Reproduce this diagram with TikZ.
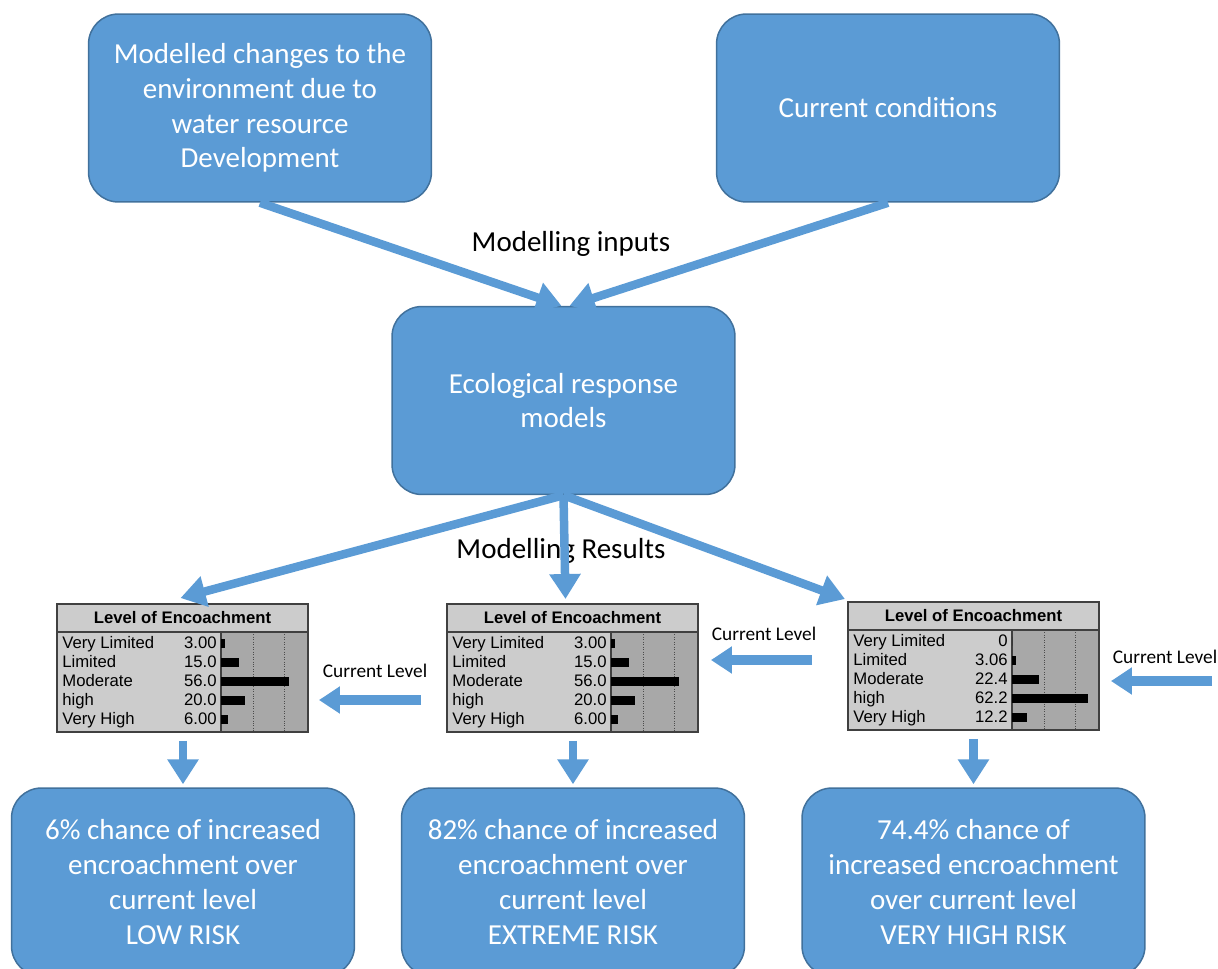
\documentclass[tikz,border=0pt]{standalone}
\usepackage{fontspec}
\setmainfont{Carlito}
\newfontfamily\netfont{Liberation Sans}
\usetikzlibrary{arrows.meta,calc}
\definecolor{boxblue}{HTML}{5B9BD5}
\definecolor{boxedge}{HTML}{41719C}
\definecolor{netlight}{HTML}{CCCCCC}
\definecolor{netdark}{HTML}{A8A8A8}
\tikzset{
  bluebox/.style={draw=boxedge, line width=0.03cm, fill=boxblue, rounded corners=0.6cm,
    minimum width=6.86cm, minimum height=3.76cm, align=center, text=white,
    font=\fontsize{16.5}{19.8}\selectfont},
  flow/.style={draw=boxblue, line width=0.17cm, -{Triangle[width=0.6cm,length=0.5cm]}},
  curarrow/.style={draw=boxblue, line width=0.2cm, -{Triangle[width=0.52cm,length=0.42cm]}},
  enctab/.style={draw=black!75, line width=0.04cm, minimum width=5.02cm, minimum height=2.56cm, inner sep=0},
  nettext/.style={inner sep=0, font=\netfont\fontsize{9.5}{11}\selectfont},
  flowlabel/.style={font=\fontsize{16.5}{19.8}\selectfont},
  curlabel/.style={font=\fontsize{11}{13}\selectfont}
}
\def\enctable(#1)(#2,#3)#4#5#6#7#8{
  \begin{scope}[shift={(#2,#3)}]
    \fill[netlight] (0,0) rectangle (251,128);
    \fill[netdark] (164,28) rectangle (251,128);
    \draw[densely dotted, black!70] (196,28) -- (196,128) (227,28) -- (227,128);
    \draw[black!75, line width=0.03cm] (0,28) -- (251,28) (164,28) -- (164,128);
    \node[nettext, font=\netfont\bfseries\fontsize{9.5}{11}\selectfont] at (125.5,14) {Level of Encoachment};
    \foreach \lab/\val [count=\i] in {Very Limited/#4, Limited/#5, Moderate/#6, high/#7, Very High/#8} {
      \node[nettext, anchor=base west] at (5, 25+19.1*\i) {\lab};
      \node[nettext, anchor=base east] at (160, 25+19.1*\i) {\val};
      \fill (164, 15.5+19.1*\i) rectangle ++({\val*1.22}, 9);
    }
    \node[enctab] (#1) at (125.5,64) {};
  \end{scope}}

\begin{document}
\begin{tikzpicture}[x=0.02cm, y=-0.02cm]
  %%%%% START %%%%%
  \useasboundingbox (0,0) rectangle (1218,968);
  \clip (0,0) rectangle (1218,968);

  \node[bluebox] (devel) at (260,108) {Modelled changes to the\\environment due to\\water resource\\Development};
  \node[bluebox] (current) at (888,108) {Current conditions};
  \node[bluebox] (eco) at (563.5,400.5) {Ecological response\\models};

  \node[flowlabel] (inlab) at (571,244) {Modelling inputs};
  \node[flowlabel] (reslab) at (561,551) {Modelling Results};

  \draw[flow] (devel.south) -- ($(eco.north)+(-2,0)$);
  \draw[flow] (current.south) -- ($(eco.north)+(6,0)$);

  \enctable(tabA)(57,604){3.00}{15.0}{56.0}{20.0}{6.00}
  \enctable(tabB)(447,604){3.00}{15.0}{56.0}{20.0}{6.00}
  \enctable(tabC)(848,602){0}{3.06}{22.4}{62.2}{12.2}

  \draw[flow] (eco.south) -- ($(tabA.north)+(-2,-5)$);
  \draw[flow] (eco.south) -- ($(eco.south |- tabB.north)+(2,-4)$);
  \draw[flow] (eco.south) -- ($(tabC.north west)+(-2,-2)$);

  \node[bluebox] (riskA) at (183,882) {6\% chance of increased\\encroachment over\\current level\\LOW RISK};
  \node[bluebox] (riskB) at (573,882) {82\% chance of increased\\encroachment over\\current level\\EXTREME RISK};
  \node[bluebox] (riskC) at (973.5,882) {74.4\% chance of\\increased encroachment\\over current level\\VERY HIGH RISK};

  \draw[flow, shorten <=0.16cm, shorten >=0.06cm] (tabA.south -| riskA.north) -- (riskA.north);
  \draw[flow, shorten <=0.16cm, shorten >=0.06cm] (tabB.south -| riskB.north) -- (riskB.north);
  \draw[flow, shorten <=0.16cm, shorten >=0.06cm] (tabC.south -| riskC.north) -- (riskC.north);

  % current level markers
  \node[curlabel] (curA) at (375,671) {Current Level};
  \node[curlabel] (curB) at (764,634) {Current Level};
  \node[curlabel] (curC) at (1165,657) {Current Level};
  \coordinate (cA) at (421,700);
  \coordinate (cB) at (812,660);
  \coordinate (cC) at (1212,681);
  \draw[curarrow, shorten >=0.2cm] (cA) -- (tabA.east |- cA);
  \draw[curarrow, shorten >=0.24cm] (cB) -- (tabB.east |- cB);
  \draw[curarrow, shorten >=0.22cm] (cC) -- (tabC.east |- cC);
  %%%%% END %%%%%
\end{tikzpicture}
\end{document}
